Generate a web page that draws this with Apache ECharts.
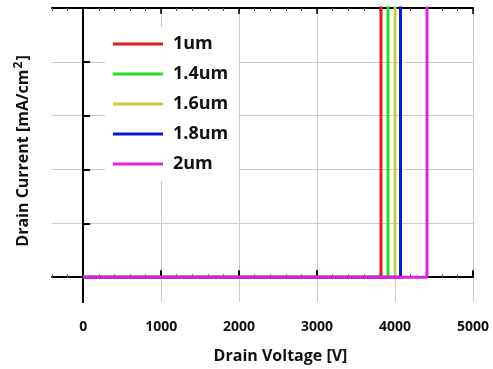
<!DOCTYPE html>
<html>
<head>
<meta charset="utf-8">
<script src="https://cdn.jsdelivr.net/npm/echarts@6/dist/echarts.min.js"></script>
<style>
  html, body { margin: 0; padding: 0; background: #fff; }
  #chart { width: 493px; height: 369px; }
</style>
</head>
<body>
<div id="chart"></div>
<script>
// breakdown voltage of each cell pitch
const seriesNames = ["1um", "1.4um", "1.6um", "1.8um", "2um"];
const breakdownV = [3820, 3910, 4000, 4070, 4410];
const seriesColors = ["#e81818", "#22e022", "#cccc44", "#0a18d8", "#e020e0"];
const xTickValues = [0, 1000, 2000, 3000, 4000, 5000];
const yTickValues = [0, 1, 2, 3, 4];
const leakLevel = 0;   // flat current before breakdown
const riseLevel = 8;   // vertical jump, clipped at top

const FONT = "Open Sans";

const chart = echarts.init(document.getElementById("chart"));

const xBase = { type: "value", min: -400, max: 5000, gridIndex: 0 };

const option = {
  animation: false,
  grid: { left: 52, right: 20, top: 8, bottom: 66, containLabel: false },
  legend: {
    orient: "vertical",
    left: 105,
    top: 27,
    itemWidth: 50,
    itemHeight: 3,
    itemGap: 12,
    icon: "rect",
    backgroundColor: "#fff",
    padding: [8, 10, 8, 8],
    textStyle: { fontFamily: FONT, fontWeight: "bold", fontSize: 18, color: "#111", padding: [0, 0, 0, 5] },
    data: seriesNames
  },
  xAxis: [
    // minor ticks bottom (data axis)
    Object.assign({}, xBase, {
      position: "bottom", interval: 200,
      axisLine: { show: true, lineStyle: { color: "#000", width: 2 } },
      axisTick: { show: true, inside: true, length: 3, lineStyle: { color: "#555", width: 1 } },
      axisLabel: { show: false }, splitLine: { show: false }
    }),
    // major ticks + labels bottom
    Object.assign({}, xBase, {
      position: "bottom",
      name: "Drain Voltage [V]", nameLocation: "middle", nameGap: 46,
      nameTextStyle: { fontFamily: FONT, fontWeight: "bold", fontSize: 16, color: "#111", padding: [0, 0, 0, 36] },
      axisLine: { show: false },
      axisTick: { show: true, inside: true, length: 7, customValues: xTickValues, lineStyle: { color: "#000", width: 2 } },
      axisLabel: {
        show: true, customValues: xTickValues, margin: 18,
        formatter: (v) => String(v),
        fontFamily: FONT, fontWeight: "bold", fontSize: 14, color: "#111"
      },
      splitLine: { show: true, lineStyle: { color: "#ccc", width: 1 } }
    }),
    // top mirror, minor
    Object.assign({}, xBase, {
      position: "top", interval: 200,
      axisLine: { show: true, lineStyle: { color: "#000", width: 2 } },
      axisTick: { show: true, inside: true, length: 3, lineStyle: { color: "#555", width: 1 } },
      axisLabel: { show: false }, splitLine: { show: false }
    }),
    // top mirror, major
    Object.assign({}, xBase, {
      position: "top",
      axisLine: { show: false },
      axisTick: { show: true, inside: true, length: 6, customValues: xTickValues, lineStyle: { color: "#000", width: 1.5 } },
      axisLabel: { show: false }, splitLine: { show: false }
    })
  ],
  yAxis: [
    {
      type: "value", min: -0.46, max: 5, position: "left",
      name: "{n|Drain Current [mA/cm}{sup|2}{n|]}", nameLocation: "middle", nameGap: 19,
      nameTextStyle: {
        fontFamily: FONT, fontWeight: "bold", fontSize: 16, color: "#111",
        padding: [0, 0, 0, 8],
        rich: {
          n: { fontFamily: FONT, fontWeight: "bold", fontSize: 16, color: "#111" },
          sup: { fontFamily: FONT, fontWeight: "bold", fontSize: 12, color: "#111", verticalAlign: "top", padding: [0, 1, 8, 1] }
        }
      },
      axisLine: { show: true, lineStyle: { color: "#000", width: 2 } },
      axisTick: { show: true, inside: true, length: 7, customValues: yTickValues, lineStyle: { color: "#000", width: 2 } },
      axisLabel: { show: false, customValues: yTickValues },
      splitLine: { show: true, lineStyle: { color: "#ccc", width: 1 } }
    },
    {
      type: "value", min: -0.46, max: 5, position: "right",
      axisLine: { show: true, lineStyle: { color: "#000", width: 2 } },
      axisTick: { show: false }, axisLabel: { show: false }, splitLine: { show: false }
    }
  ],
  series: seriesNames.map((name, i) => ({
    type: "line",
    name: name,
    xAxisIndex: 0,
    yAxisIndex: 0,
    data: [[0, leakLevel], [breakdownV[i], leakLevel], [breakdownV[i], riseLevel]],
    color: seriesColors[i],
    showSymbol: false,
    symbol: "none",
    clip: true,
    z: 2 + i,
    lineStyle: { width: 3 }
  }))
};

chart.setOption(option);
</script>
</body>
</html>
